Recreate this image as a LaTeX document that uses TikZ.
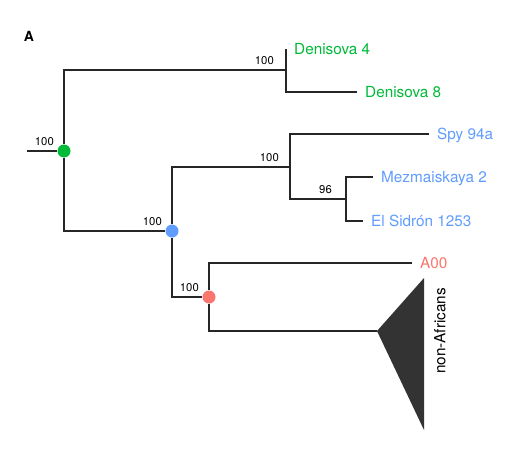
\documentclass[tikz,border=0pt]{standalone}
\usepackage{fontspec}
\setmainfont{TeX Gyre Heros}
\usetikzlibrary{calc, positioning}

\definecolor{dgreen}{HTML}{00BA38}
\definecolor{nblue}{HTML}{619CFF}
\definecolor{ared}{HTML}{F8766D}

\begin{document}
\begin{tikzpicture}[
  x=1pt, y=-1pt,
  branch/.style={line width=1.3pt, draw=black!85},
  dot/.style={circle, fill=#1, inner sep=0pt, minimum size=13pt},
  taxon/.style={anchor=west, inner xsep=8pt, inner ysep=0pt, text depth=0pt,
    font=\fontsize{15.3}{18}\selectfont},
  support/.style={anchor=south east, inner sep=0pt, font=\fontsize{11.3}{13}\selectfont},
]
  \useasboundingbox (0,0) rectangle (516,452);
  \node[font=\bfseries\fontsize{14}{16}\selectfont] (panel) at (29,36) {A};

  % internal nodes
  \coordinate (root) at (27,151);
  \node[dot=dgreen] (nA) at (64,151) {};
  \node[dot=nblue] (nB) at (172,231) {};
  \node[dot=ared] (nC) at (209,297) {};
  \coordinate (nDen) at (286,70);
  \coordinate (nSpy) at (290,167);
  \coordinate (nMez) at (346,199);
  \coordinate (apex) at (377,331);

  % tips
  \node[taxon, text=dgreen] (d4) at (286,49) {Denisova 4};
  \node[taxon, text=dgreen] (d8) at (357,92) {Denisova 8};
  \node[taxon, text=nblue] (spy) at (429,134) {Spy 94a};
  \node[taxon, text=nblue] (mez) at (373,177) {Mezmaiskaya 2};
  \node[taxon, text=nblue] (sid) at (363,221) {El Sidrón 1253};
  \node[taxon, text=ared] (a00) at (412,263) {A00};

  % branches
  \draw[branch] (root) -- (nA);
  \draw[branch] (nA) |- (nDen);
  \draw[branch] (nA) |- (nB);
  \draw[branch] (nDen) -- (d4.west);
  \draw[branch] (nDen) |- (d8.west);
  \draw[branch] (nB) |- (nSpy);
  \draw[branch] (nB) |- (nC);
  \draw[branch] (nSpy) |- (spy.west);
  \draw[branch] (nSpy) |- (nMez);
  \draw[branch] (nMez) |- (mez.west);
  \draw[branch] (nMez) |- (sid.west);
  \draw[branch] (nC) |- (a00.west);
  \draw[branch] (nC) |- (apex);

  % collapsed clade
  \coordinate (cladeTop) at (424,278);
  \coordinate (cladeBot) at (424,430);
  \fill[black!80] (apex) -- (cladeTop) -- (cladeBot) -- cycle;
  \node[rotate=90, font=\fontsize{15.3}{18}\selectfont] (clade) at (440,331) {non-Africans};

  % bootstrap support
  \foreach \n/\dx/\val in {nA/-10/100, nB/-10/100, nC/-10/100, nDen/-12/100, nSpy/-11/100, nMez/-14/96}
    \node[support] (s\n) at ($(\n)+(\dx,-5)$) {\val};
\end{tikzpicture}
\end{document}
